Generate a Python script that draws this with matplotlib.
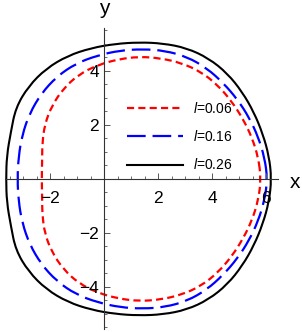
import numpy as np
import matplotlib
matplotlib.use("Agg")
import matplotlib.pyplot as plt
from matplotlib.ticker import FixedLocator, MultipleLocator
from matplotlib.path import Path
from matplotlib.patches import PathPatch
from matplotlib.lines import Line2D

plt.rcParams['font.family'] = ['Liberation Sans', 'DejaVu Sans']
plt.rcParams['mathtext.fontset'] = 'custom'
plt.rcParams['mathtext.it'] = 'Liberation Sans:italic'
plt.rcParams['mathtext.rm'] = 'Liberation Sans'

# upper halves of the shadow curves (right -> left)
red_x = [5.81, 5.712, 5.482, 5.145, 4.724, 4.212, 3.59, 2.863, 2.088, 1.30,
         0.519, -0.236, -0.935, -1.509, -1.933, -2.199, -2.29, -2.295, -2.31]
red_y = [0.00, 0.778, 1.522, 2.22, 2.873, 3.47, 3.966, 4.294, 4.471, 4.53,
         4.432, 4.219, 3.871, 3.347, 2.713, 2.02, 1.306, 0.634, 0.00]

blue_x = [6.05, 5.94, 5.706, 5.37, 4.938, 4.413, 3.80, 3.075, 2.267, 1.43,
          0.592, -0.236, -1.04, -1.752, -2.331, -2.761, -3.034, -3.169, -3.21]
blue_y = [0.00, 0.795, 1.556, 2.275, 2.944, 3.554, 4.105, 4.52, 4.747, 4.81,
          4.757, 4.576, 4.278, 3.792, 3.156, 2.42, 1.625, 0.811, 0.00]

black_x = [6.20, 6.106, 5.876, 5.551, 5.12, 4.568, 3.87, 3.055, 2.175, 1.29,
           0.408, -0.475, -1.345, -2.143, -2.80, -3.274, -3.455, -3.604, -3.63]
black_y = [0.00, 0.849, 1.669, 2.46, 3.214, 3.907, 4.469, 4.849, 5.022, 5.06,
           5.003, 4.849, 4.564, 4.091, 3.433, 2.635, 1.727, 0.863, 0.00]

labels = [r"$\mathit{l}$=0.06", r"$\mathit{l}$=0.16", r"$\mathit{l}$=0.26"]
x_ticks = [-2, 2, 4, 6]
y_ticks = [-4, -2, 2, 4]


def closed(xs, ys):
    # the shadow is symmetric about the x axis; last point repeats the first
    xs = np.asarray(xs)
    ys = np.asarray(ys)
    return np.r_[xs, xs[::-1][1:]], np.r_[ys, -ys[::-1][1:]]


def smooth_loop(xs, ys):
    # closed quadratic bezier loop using the read points as control points
    pts = np.column_stack(closed(xs, ys))[:-1]
    n = len(pts)
    mids = (pts + np.roll(pts, -1, axis=0)) / 2
    verts = [mids[0]]
    codes = [Path.MOVETO]
    for i in range(1, n + 1):
        verts += [pts[i % n], mids[i % n]]
        codes += [Path.CURVE3, Path.CURVE3]
    return Path(verts, codes)


W, H = 302, 332
fig = plt.figure(figsize=(W / 100, H / 100), dpi=100)
ax = fig.add_axes([5 / W, 3 / H, 273 / W, 301 / H])
ax.set_xlim(-3.67, 6.44)
ax.set_ylim(-5.56, 5.59)

styles = [
    (red_x, red_y, '#ff0000', 1.6, (3.2, 1.9)),
    (blue_x, blue_y, '#0000ff', 1.6, (8.4, 3.1)),
    (black_x, black_y, 'black', 1.5, None),
]
handles = []
for (xs, ys, col, lw, dash), lab in zip(styles, labels):
    ls = (0, dash) if dash else '-'
    ax.add_patch(PathPatch(smooth_loop(xs, ys), facecolor='none', edgecolor=col,
                           lw=lw, linestyle=ls))
    handles.append(Line2D([], [], color=col, lw=lw, linestyle=ls, label=lab))

for s in ['top', 'right']:
    ax.spines[s].set_visible(False)
for s in ['left', 'bottom']:
    ax.spines[s].set_position(('data', 0))
    ax.spines[s].set_linewidth(0.8)
    ax.spines[s].set_color('#333333')

ax.xaxis.set_major_locator(FixedLocator(x_ticks))
ax.yaxis.set_major_locator(FixedLocator(y_ticks))
ax.xaxis.set_minor_locator(MultipleLocator(0.5))
ax.yaxis.set_minor_locator(MultipleLocator(0.5))
ax.tick_params(which='both', direction='in', color='#555555', labelsize=12.5)
ax.tick_params(which='major', length=4, width=0.7)
ax.tick_params(which='minor', length=2.3, width=0.6)
ax.tick_params(axis='x', which='major', pad=9)
ax.tick_params(axis='y', which='major', pad=3.5)

fig.text(295 / W, 1 - 182 / H, 'x', fontsize=15, ha='center', va='center')
fig.text(104 / W, 1 - 8 / H, 'y', fontsize=15, ha='center', va='center')

ax.legend(handles=handles, loc='upper left', bbox_to_anchor=(127 / W, 1 - 101 / H),
          bbox_transform=fig.transFigure, frameon=False, fontsize=10,
          handlelength=4.0, handletextpad=0.75, labelspacing=0.95,
          borderpad=0, borderaxespad=0)

fig.savefig('out.png', dpi=100)
